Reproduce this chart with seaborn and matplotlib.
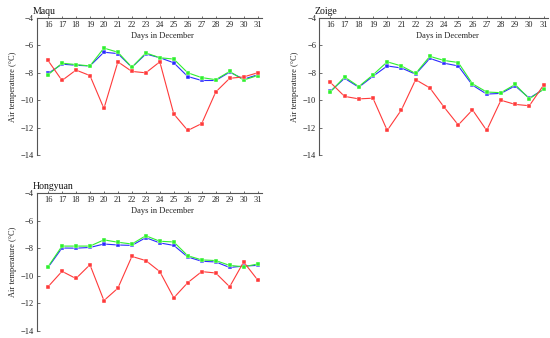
import matplotlib
matplotlib.use("Agg")
import matplotlib.pyplot as plt
import numpy as np
import pandas as pd
import seaborn as sns

days = list(range(16, 32))
y_ticks = [-4, -6, -8, -10, -12, -14]

# Maqu
maqu_red = [-7.1, -8.56, -7.8, -8.2, -10.6, -7.2, -7.9, -8.0, -7.2, -11.0, -12.2, -11.7, -9.4, -8.4, -8.3, -8.0]
maqu_blue = [-8.05, -7.37, -7.45, -7.5, -6.5, -6.6, -7.6, -6.63, -6.9, -7.27, -8.27, -8.56, -8.56, -7.95, -8.46, -8.15]
maqu_green = [-8.15, -7.3, -7.4, -7.5, -6.2, -6.5, -7.6, -6.55, -6.9, -7.0, -8.0, -8.35, -8.5, -7.9, -8.53, -8.2]

# Zoige
zoige_red = [-8.7, -9.72, -9.9, -9.85, -12.2, -10.7, -8.5, -9.1, -10.5, -11.8, -10.7, -12.2, -10.0, -10.3, -10.4, -8.9]
zoige_blue = [-9.35, -8.4, -9.05, -8.25, -7.5, -7.65, -8.1, -6.95, -7.3, -7.5, -8.9, -9.55, -9.5, -8.95, -9.85, -9.2]
zoige_green = [-9.4, -8.3, -9.0, -8.15, -7.2, -7.5, -8.05, -6.8, -7.1, -7.25, -8.8, -9.4, -9.45, -8.85, -9.9, -9.2]

# Hongyuan
hong_red = [-10.8, -9.68, -10.2, -9.2, -11.8, -10.9, -8.6, -8.9, -9.7, -11.6, -10.5, -9.7, -9.8, -10.8, -9.0, -10.3]
hong_blue = [-9.4, -7.99, -8.0, -7.95, -7.7, -7.77, -7.8, -7.24, -7.62, -7.8, -8.64, -8.95, -9.0, -9.4, -9.3, -9.25]
hong_green = [-9.35, -7.85, -7.85, -7.85, -7.4, -7.57, -7.7, -7.1, -7.5, -7.55, -8.55, -8.85, -8.9, -9.25, -9.35, -9.15]

panels = [
    ("Maqu", maqu_red, maqu_blue, maqu_green, [0.067, 0.541, 0.409, 0.406]),
    ("Zoige", zoige_red, zoige_blue, zoige_green, [0.580, 0.541, 0.416, 0.406]),
    ("Hongyuan", hong_red, hong_blue, hong_green, [0.067, 0.021, 0.409, 0.408]),
]

colors = {"blue": "#2a2aff", "green": "#2ef02e", "red": "#ff3a3a"}

sns.set_theme(style="white")
plt.rcParams["font.family"] = ["Liberation Serif", "DejaVu Serif"]

fig = plt.figure(figsize=(5.5, 3.38), dpi=100)

for name, red, blue, green, rect in panels:
    ax = fig.add_axes(rect)
    df = pd.DataFrame({
        "day": days * 3,
        "temp": blue + green + red,
        "series": ["blue"] * len(days) + ["green"] * len(days) + ["red"] * len(days),
    })
    sns.lineplot(data=df, x="day", y="temp", hue="series", palette=colors,
                 marker="s", markersize=2.3, markeredgewidth=0.3, linewidth=0.8,
                 legend=False, ax=ax)
    ax.set_xlim(15.2, 31.3)
    ax.set_ylim(-14, -4)
    ax.set_xticks(days)
    ax.set_yticks(y_ticks)
    for s in ["right", "top"]:
        ax.spines[s].set_visible(False)
    ax.spines["bottom"].set_position(("data", -4))
    for s in ["left", "bottom"]:
        ax.spines[s].set_color("#555555")
        ax.spines[s].set_linewidth(0.8)
    ax.tick_params(axis="both", direction="in", length=1.8, width=0.6,
                   colors="#555555", labelsize=6.0, labelcolor="#222222", pad=2)
    ax.tick_params(axis="x", bottom=True, pad=2.5)
    ax.tick_params(axis="y", left=True)
    ax.set_xlabel("Days in December", fontsize=6.0, color="#222222", labelpad=0.5)
    ax.xaxis.set_label_coords(0.56, 0.895)
    ax.set_ylabel("Air temperature (\u00b0C)", fontsize=6.0, color="#222222", labelpad=3)
    ax.set_title(name, loc="left", fontsize=7.0, color="#111111", x=-0.02, pad=3)
    ax.grid(False)

fig.savefig("out.png", dpi=100)
